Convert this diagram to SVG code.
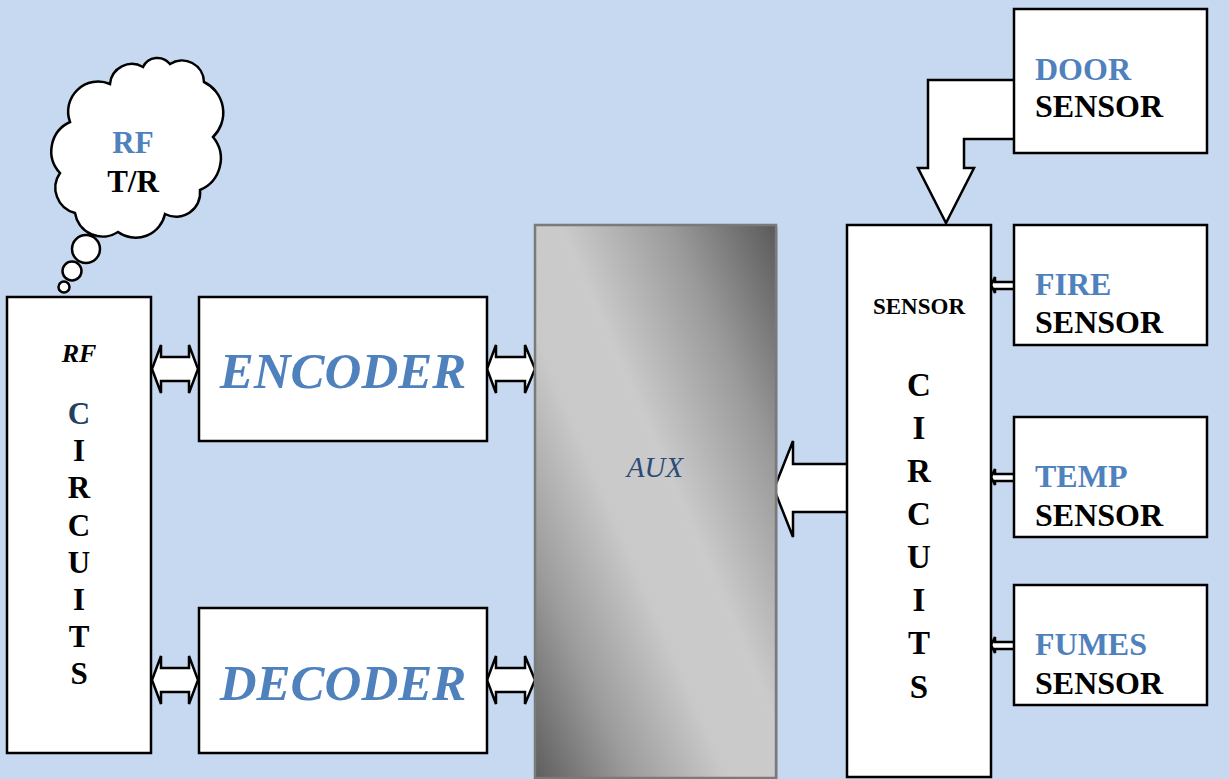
<svg xmlns="http://www.w3.org/2000/svg" width="1229" height="779" viewBox="0 0 1229 779">
<defs>
<style>
.box{fill:#ffffff;stroke:#000000;stroke-width:2.5}
.arr{fill:#ffffff;stroke:#000000;stroke-width:2.5;stroke-linejoin:miter}
.t{font-family:"Liberation Serif","Times New Roman",serif;font-weight:bold}
.blue{fill:#4F81BD}
.blk{fill:#000000}
.mid{text-anchor:middle}
</style>
<linearGradient id="auxg" x1="1" y1="0" x2="0" y2="1">
<stop offset="0" stop-color="#5a5a5a"/>
<stop offset="0.22" stop-color="#9a9a9a"/>
<stop offset="0.45" stop-color="#cbcbcb"/>
<stop offset="0.6" stop-color="#c9c9c9"/>
<stop offset="0.8" stop-color="#9c9c9c"/>
<stop offset="1" stop-color="#5e5e5e"/>
</linearGradient>
</defs>
<rect x="0" y="0" width="1229" height="779" fill="#C6D9F1"/>

<g id="connectors">
<polygon class="arr" points="152,369 161,345 161,357 189,357 189,345 198,369 189,393 189,381 161,381 161,393"/>
<polygon class="arr" points="152,680 161,656 161,668 189,668 189,656 198,680 189,704 189,692 161,692 161,704"/>
<polygon class="arr" points="487,369 496,345 496,357 525,357 525,345 535,369 525,393 525,381 496,381 496,393"/>
<polygon class="arr" points="487,680 496,656 496,668 525,668 525,656 535,680 525,704 525,692 496,692 496,704"/>
<polygon class="arr" points="849,464 793,464 793,441 774,489 793,537 793,512 849,512"/>
<polygon class="arr" points="1016,80 928,80 928,168 918,168 946,223 974,168 964,168 964,139 1016,139"/>
<polygon class="arr" points="1016,282 995,282 995,277 991,285 995,293 995,289 1016,289"/>
<polygon class="arr" points="1016,474 995,474 995,469 991,477 995,485 995,481 1016,481"/>
<polygon class="arr" points="1016,642 995,642 995,637 991,645 995,653 995,649 1016,649"/>
</g>

<g id="rf-tr">
<path class="arr" stroke-width="2.2" d="M70,122 A30,30 0 0 1 110,84 A22,22 0 0 1 143,67 A16,16 0 0 1 170,64 A22,22 0 0 1 204,82 A34,34 0 0 1 213,137 A34,34 0 0 1 200,190 A24,24 0 0 1 165,214 A30,30 0 0 1 118,232 A28,28 0 0 1 75,213 A26,26 0 0 1 60,173 A32,32 0 0 1 70,122 Z"/>
<circle class="arr" stroke-width="2.2" cx="86" cy="249" r="14"/>
<circle class="arr" stroke-width="2.2" cx="72" cy="271" r="9.5"/>
<circle class="arr" stroke-width="2.2" cx="64" cy="287" r="5.5"/>
<text class="t blue mid" x="133" y="153" font-size="31">RF</text>
<text class="t blk mid" x="133" y="192" font-size="31">T/R</text>
</g>

<g id="rf-circuits">
<rect class="box" x="7" y="297" width="144" height="456"/>
<text class="t blk mid" x="79" y="362" font-size="26" font-style="italic">RF</text>
<text class="t mid" x="79" y="424" font-size="31" fill="#243F60">C</text>
<text class="t blk mid" x="79" y="461" font-size="31">I</text>
<text class="t blk mid" x="79" y="498" font-size="31">R</text>
<text class="t blk mid" x="79" y="536" font-size="31">C</text>
<text class="t blk mid" x="79" y="573" font-size="31">U</text>
<text class="t blk mid" x="79" y="610" font-size="31">I</text>
<text class="t blk mid" x="79" y="647" font-size="31">T</text>
<text class="t blk mid" x="79" y="684" font-size="31">S</text>
</g>

<g id="encoder">
<rect class="box" x="199" y="297" width="288" height="144"/>
<text class="t blue mid" x="343" y="388" font-size="51" font-style="italic">ENCODER</text>
</g>

<g id="decoder">
<rect class="box" x="199" y="608" width="288" height="145"/>
<text class="t blue mid" x="343" y="700" font-size="51" font-style="italic">DECODER</text>
</g>

<g id="aux">
<rect x="537" y="227" width="241" height="552" fill="#9a9a9a" opacity="0.5"/>
<rect x="535" y="225" width="241" height="553" fill="url(#auxg)" stroke="#7a7a7a" stroke-width="2.5"/>
<text x="655" y="477" font-family="'Liberation Serif','Times New Roman',serif" font-style="italic" font-size="29" fill="#2A4A78" text-anchor="middle">AUX</text>
</g>

<g id="sensor-circuits">
<rect class="box" x="847" y="225" width="144" height="552"/>
<text class="t blk mid" x="919" y="314" font-size="23">SENSOR</text>
<text class="t blk mid" x="919" y="396" font-size="33">C</text>
<text class="t blk mid" x="919" y="439" font-size="33">I</text>
<text class="t blk mid" x="919" y="482" font-size="33">R</text>
<text class="t blk mid" x="919" y="525" font-size="33">C</text>
<text class="t blk mid" x="919" y="568" font-size="33">U</text>
<text class="t blk mid" x="919" y="611" font-size="33">I</text>
<text class="t blk mid" x="919" y="654" font-size="33">T</text>
<text class="t blk mid" x="919" y="698" font-size="33">S</text>
</g>

<g id="door-sensor">
<rect class="box" x="1014" y="9" width="193" height="144"/>
<text class="t blue" x="1035" y="80" font-size="32">DOOR</text>
<text class="t blk" x="1035" y="117" font-size="32">SENSOR</text>
</g>

<g id="fire-sensor">
<rect class="box" x="1014" y="225" width="193" height="120"/>
<text class="t blue" x="1035" y="295" font-size="32">FIRE</text>
<text class="t blk" x="1035" y="333" font-size="32">SENSOR</text>
</g>

<g id="temp-sensor">
<rect class="box" x="1014" y="417" width="193" height="120"/>
<text class="t blue" x="1035" y="487" font-size="32">TEMP</text>
<text class="t blk" x="1035" y="526" font-size="32">SENSOR</text>
</g>

<g id="fumes-sensor">
<rect class="box" x="1014" y="585" width="193" height="120"/>
<text class="t blue" x="1035" y="655" font-size="32">FUMES</text>
<text class="t blk" x="1035" y="694" font-size="32">SENSOR</text>
</g>
</svg>
